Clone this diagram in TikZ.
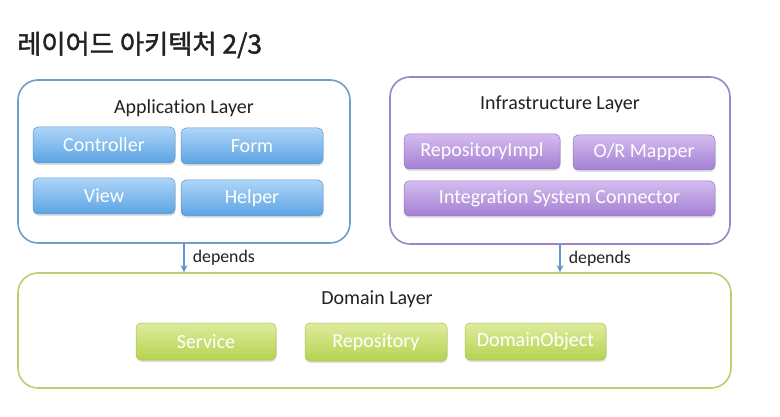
\documentclass[tikz,border=0pt]{standalone}
\usepackage{fontspec}
\setmainfont{Carlito}[Ligatures=NoCommon]
\newfontfamily\kr{Noto Sans CJK KR}[FakeBold=1.6]
\usetikzlibrary{shadows,arrows.meta}
\definecolor{bluestroke}{HTML}{6E9ECC}
\definecolor{bluetop}{HTML}{AED5F8}
\definecolor{bluebot}{HTML}{5BA3E3}
\definecolor{blueedge}{HTML}{5E97CC}
\definecolor{purstroke}{HTML}{9A86C2}
\definecolor{purtop}{HTML}{D4BCEF}
\definecolor{purbot}{HTML}{A47FD3}
\definecolor{puredge}{HTML}{9575C2}
\definecolor{grnstroke}{HTML}{B9CF72}
\definecolor{grntop}{HTML}{DEEC9E}
\definecolor{grnbot}{HTML}{B6D250}
\definecolor{grnedge}{HTML}{A9C24E}
\definecolor{arrowblue}{HTML}{5E96CE}
\definecolor{txt}{HTML}{222222}
\tikzset{
  layer/.style={draw, line width=1.6pt, rounded corners=20pt, fill=white},
  layertitle/.style={font=\fontsize{20}{22}\selectfont, text=txt, inner sep=0pt},
  item/.style={rounded corners=5pt, text=white, font=\fontsize{20}{22}\selectfont, inner sep=0pt,
    drop shadow={shadow xshift=0.5pt, shadow yshift=-2pt, opacity=0.25}},
  bluebox/.style={item, draw=blueedge, line width=0.5pt, top color=bluetop, bottom color=bluebot},
  purbox/.style={item, draw=puredge, line width=0.5pt, top color=purtop, bottom color=purbot},
  grnbox/.style={item, draw=grnedge, line width=0.5pt, top color=grntop, bottom color=grnbot},
  dep/.style={draw=arrowblue, line width=1.6pt, -{Stealth[length=7pt,width=7pt]}},
  deplabel/.style={font=\fontsize{17.8}{19}\selectfont, text=txt, inner sep=0pt, anchor=west}
}
\begin{document}
\begin{tikzpicture}[x=1pt,y=-1pt]
\useasboundingbox[fill=white] (0,0) rectangle (780,417);
\node[anchor=west, inner sep=0pt, text=txt, font=\kr\fontsize{26.3}{28}\selectfont] (title) at (17,45) {레이어드 아키텍처 2/3};

% Application layer
\node[layer, draw=bluestroke, minimum width=332pt, minimum height=163pt] (app) at (184,161.5) {};
\node[layertitle] (apptitle) at (184,108) {Application Layer};
\node[bluebox, minimum width=142pt, minimum height=36pt] (ctrl) at (104,145) {Controller};
\node[bluebox, minimum width=142pt, minimum height=36pt] (form) at (252,146) {Form};
\node[bluebox, minimum width=142pt, minimum height=36pt] (view) at (104,196) {View};
\node[bluebox, minimum width=142pt, minimum height=36pt] (helper) at (252,198) {Helper};

% Infrastructure layer
\node[layer, draw=purstroke, minimum width=340pt, minimum height=167pt] (infra) at (560,160.5) {};
\node[layertitle] (infratitle) at (560,104) {Infrastructure Layer};
\node[purbox, minimum width=156pt, minimum height=35pt] (rimpl) at (482,151.5) {RepositoryImpl};
\node[purbox, minimum width=142pt, minimum height=35pt] (orm) at (644,152.5) {O/R Mapper};
\node[purbox, minimum width=311pt, minimum height=35pt] (isc) at (559.5,198.5) {Integration System Connector};

% Domain layer
\node[layer, draw=grnstroke, minimum width=713pt, minimum height=115pt] (dom) at (374.5,330.5) {};
\node[layertitle] (domtitle) at (377,299) {Domain Layer};
\node[grnbox, minimum width=140pt, minimum height=37pt] (svc) at (206,341.5) {Service};
\node[grnbox, minimum width=142pt, minimum height=38pt] (repo) at (376,342) {Repository};
\node[grnbox, minimum width=141pt, minimum height=37pt] (dobj) at (535.5,341.5) {DomainObject};

% Dependencies
\draw[dep] (app.south) -- (app.south |- dom.north) node[pos=0.5, deplabel, xshift=8pt] (dep1) {depends};
\draw[dep] (infra.south) -- (infra.south |- dom.north) node[pos=0.5, deplabel, xshift=8pt] (dep2) {depends};
\end{tikzpicture}
\end{document}
